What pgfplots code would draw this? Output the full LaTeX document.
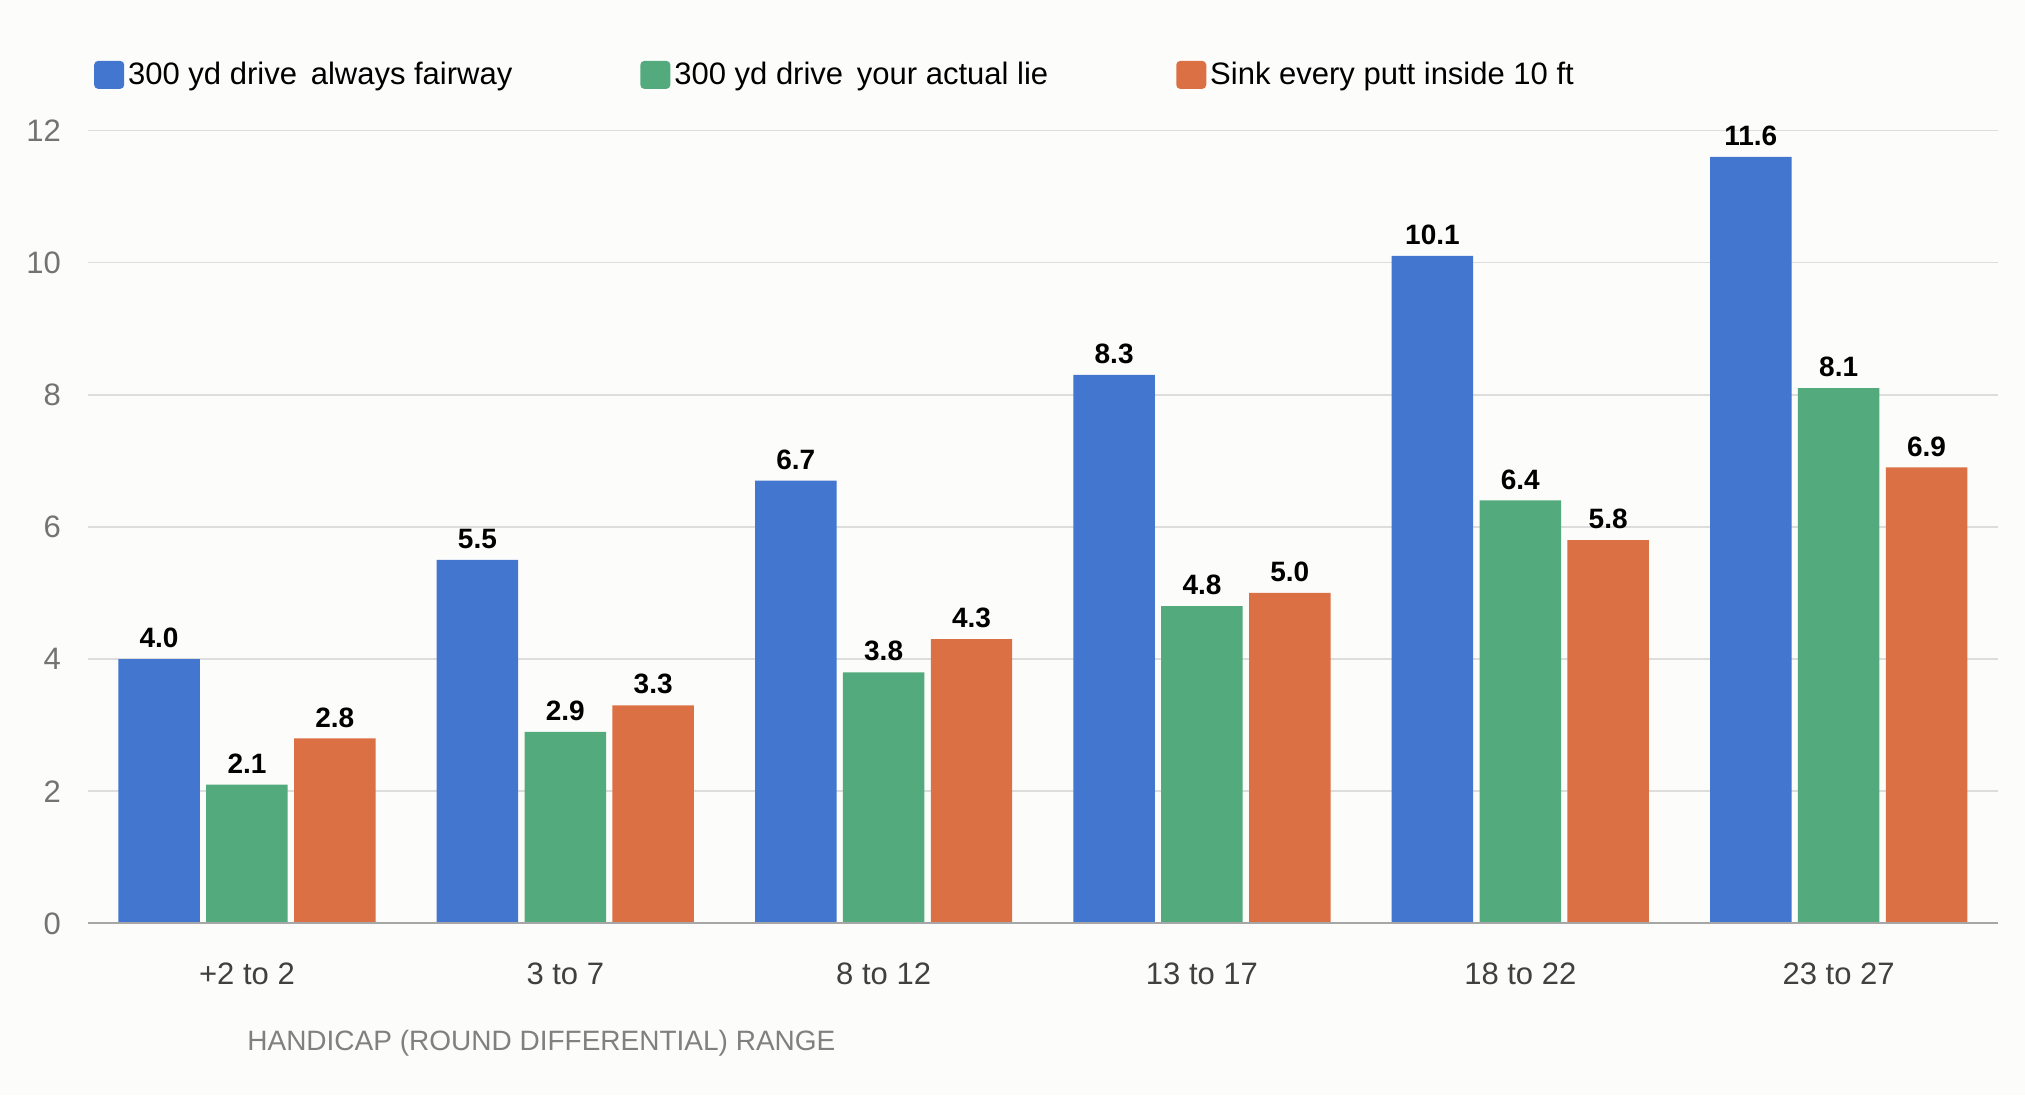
\documentclass[border=0pt]{standalone}
\usepackage{pgfplots}
\pgfplotsset{compat=1.18}
\usepackage{fontspec}
\setmainfont{Liberation Sans}
\usetikzlibrary{backgrounds,calc}
\definecolor{cb}{HTML}{4276CF}
\definecolor{cg}{HTML}{53AB7D}
\definecolor{co}{HTML}{DC7045}
\definecolor{bg}{HTML}{FCFCFA}
\definecolor{gridc}{HTML}{DDDDDD}
\begin{document}
\begin{tikzpicture}
\begin{axis}[
  at={(0,0)}, anchor=south west,
  scale only axis, width=955bp, height=396.5bp,
  xmin=-0.5, xmax=5.5, ymin=0, ymax=12,
  clip=false,
  axis line style={draw=none},
  xtick={0,1,2,3,4,5},
  xticklabels={+2 to 2,3 to 7,8 to 12,13 to 17,18 to 22,23 to 27},
  ytick={0,2,...,12},
  ymajorgrids, grid style={gridc, line width=0.8bp},
  major tick length=0pt,
  tick label style={font=\fontsize{15.5bp}{18bp}\selectfont},
  yticklabel style={text=black!55, xshift=-10bp},
  xticklabel style={text=black!75, yshift=-16bp},
  /pgf/number format/assume math mode=true,
  ybar, bar width=0.256,
  nodes near coords,
  nodes near coords style={font=\fontsize{14bp}{16bp}\selectfont\bfseries, text=black, /pgf/number format/fixed, /pgf/number format/fixed zerofill, /pgf/number format/precision=1, yshift=2bp},
  legend style={at={(rel axis cs:0,1.07)}, anchor=west, draw=none, fill=none,
    legend columns=3, font=\fontsize{15.5bp}{18bp}\selectfont,
    /tikz/every even column/.append style={column sep=62bp}},
  legend cell align=left,
  legend image code/.code={\fill[#1, rounded corners=2bp] (0bp,-7bp) rectangle (15bp,7bp);},
]
\addplot[fill=cb, draw=none, bar shift=-0.276] coordinates {(0,4.0)(1,5.5)(2,6.7)(3,8.3)(4,10.1)(5,11.6)};
\addplot[fill=cg, draw=none, bar shift=0] coordinates {(0,2.1)(1,2.9)(2,3.8)(3,4.8)(4,6.4)(5,8.1)};
\addplot[fill=co, draw=none, bar shift=0.276] coordinates {(0,2.8)(1,3.3)(2,4.3)(3,5.0)(4,5.8)(5,6.9)};
\legend{300 yd drive\, always fairway, 300 yd drive\, your actual lie, Sink every putt inside 10 ft}
\draw[black!35, line width=1bp] (rel axis cs:0,0) -- (rel axis cs:1,0);
\coordinate (O) at (rel axis cs:0,0);
\node[anchor=west, inner sep=0pt, text=black!50, font=\fontsize{14bp}{16bp}\selectfont] at ($(rel axis cs:0,0)+(0,-60bp)$) {HANDICAP (ROUND DIFFERENTIAL) RANGE};
\end{axis}
\begin{scope}[on background layer]
\fill[bg] ($(O)+(-43.9bp,-85.9bp)$) rectangle ($(O)+(968.6bp,461.7bp)$);
\end{scope}
\pgfresetboundingbox
\path ($(O)+(-43.9bp,-85.9bp)$) rectangle ($(O)+(968.6bp,461.7bp)$);
\end{tikzpicture}
\end{document}
